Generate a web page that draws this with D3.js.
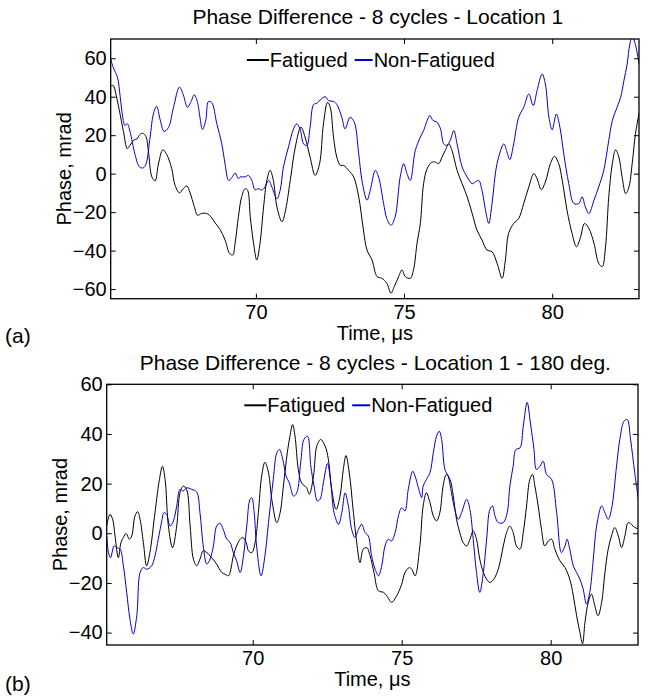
<!DOCTYPE html>
<html>
<head>
<meta charset="utf-8">
<script src="https://cdn.jsdelivr.net/npm/d3@7"></script>
<style>
  html, body { margin: 0; padding: 0; background: #fff; }
  svg { display: block; }
  text { font-family: "Liberation Sans", Arial, Helvetica, sans-serif; fill: #000; }
</style>
</head>
<body>
<svg id="chart" width="648" height="698"></svg>
<script>
// ---------------- DATA ----------------
const xTickValues = [70, 75, 80];
const topYTickValues = [-60, -40, -20, 0, 20, 40, 60];
const botYTickValues = [-40, -20, 0, 20, 40, 60];
const seriesNames = ["Fatigued", "Non-Fatigued"];
const titles = ["Phase Difference - 8 cycles - Location 1", "Phase Difference - 8 cycles - Location 1 - 180 deg."];
const panelLetters = ["(a)", "(b)"];
const xLabel = "Time, \u03bcs";
const yLabel = "Phase, mrad";

// Panel (a): Location 1
const topFatigued = [
[65.10,45.7],[65.19,45.7],[65.28,41],[65.39,33],[65.53,22],[65.66,13],[65.75,14.7],[65.89,17.6],[65.98,18],[66.09,20.4],[66.18,21],[66.29,19.3],[66.37,12],[66.49,-1.7],[66.60,-3.8],[66.71,5],[66.86,12.4],[66.99,10],[67.16,2.6],[67.27,-6],[67.42,-10],[67.55,-7.8],[67.67,-6.4],[67.78,-10],[67.92,-17],[68.03,-21.6],[68.17,-20.7],[68.34,-20.7],[68.48,-22.4],[68.62,-25.5],[68.79,-29],[68.96,-34.5],[69.11,-41.4],
[69.22,-42.3],[69.30,-36],[69.41,-22.4],[69.52,-12],[69.64,-7.8],[69.72,-8.6],[69.81,-22.4],[69.92,-36],[70.03,-44.9],[70.14,-36],[70.26,-17.3],[70.37,-3.5],[70.48,1.7],[70.59,-3.5],[70.71,-17.3],[70.88,-25],[70.99,-19.9],[71.16,-3.5],[71.33,13.8],[71.52,24.2],[71.66,19],[71.83,8.6],[72.00,-0.9],[72.15,5.2],[72.28,25.9],[72.42,37.1],[72.51,34.5],[72.62,19],[72.73,8.6],[72.85,4.3],[72.96,4.3],[73.13,1.7],[73.30,-1.7],[73.47,-12],[73.63,-29.3],[73.75,-39.7],[73.92,-44.9],[74.09,-53.5],[74.25,-54.4],[74.42,-57],[74.56,-62.1],[74.67,-58.7],[74.82,-53.5],[74.93,-50],[75.04,-53.5],[75.21,-54.4],[75.32,-50],[75.44,-36],
[75.55,-25.9],[75.66,-5.2],[75.78,2.6],[75.94,6],[76.06,6],[76.17,5.2],[76.28,8.6],[76.39,12],[76.51,15.5],[76.62,12],[76.79,1.7],[76.96,-5.2],[77.13,-12],[77.30,-20.7],[77.46,-29.3],[77.63,-34.5],[77.80,-39.7],[77.97,-40.6],[78.14,-46.6],[78.31,-54.4],[78.42,-44.9],[78.53,-31],[78.70,-25.9],[78.87,-23.3],[79.04,-15.5],[79.21,-6.9],[79.38,0],[79.49,-2.6],[79.63,-8.3],[79.77,-4.3],[79.94,5.2],[80.08,9],[80.22,5.2],[80.34,-3.5],[80.50,-19],[80.67,-31],[80.82,-38],[80.96,-32.8],[81.09,-25.9],[81.24,-28.5],[81.41,-36.2],[81.57,-46.6],[81.69,-48.3],[81.80,-38],[81.91,-12],[82.03,5.2],[82.14,12.4],[82.25,8.6],[82.36,-1.7],[82.48,-10.4],[82.59,-6.9],[82.70,5.2],[82.81,20.7],[82.96,33.7]
];
const topNonFatigued = [
[65.10,59.6],[65.19,55],[65.33,50],[65.42,40],[65.51,29],[65.58,25],[65.66,26],[65.75,22],[65.92,10],[66.07,3.5],[66.20,3],[66.29,5],[66.43,19],[66.54,31],[66.65,35],[66.77,28],[66.90,22],[67.05,24],[67.22,34.5],[67.42,45],[67.55,41],[67.69,34.5],[67.80,37],[67.92,41],[68.03,37],[68.20,23],[68.31,28],[68.40,37.5],[68.51,37],[68.68,26],[68.85,15.5],[68.96,5],[69.08,-3.5],[69.19,-2],[69.30,0.3],[69.41,-2.6],
[69.47,-1.7],[69.64,-1.7],[69.75,-0.9],[69.86,-3.5],[69.97,-8.3],[70.09,-7.8],[70.20,-8.6],[70.31,-6.9],[70.43,-3.5],[70.54,-6.9],[70.71,-13],[70.82,-8.6],[70.93,3.5],[71.10,13.8],[71.27,23.3],[71.38,25.9],[71.49,23.3],[71.61,15.5],[71.72,14.7],[71.83,24.2],[71.95,36],[72.06,36.6],[72.17,38.3],[72.34,40],[72.45,38],[72.62,37.5],[72.73,36],[72.90,29.3],[73.01,23.3],[73.18,29.3],[73.32,26.8],[73.47,10.4],[73.58,-3.5],[73.75,-13.8],[73.86,-8.6],[74.03,1.7],[74.14,-1.7],[74.31,-15.5],[74.42,-23.3],[74.56,-26.8],[74.70,-22.4],[74.87,-1.7],[74.99,5.2],[75.10,0],[75.21,-3.5],[75.38,12],
[75.55,19],[75.66,22.4],[75.78,27.6],[75.87,30.2],[75.98,27.6],[76.11,26.8],[76.23,23.3],[76.34,15.5],[76.45,14.7],[76.56,17.3],[76.68,22.4],[76.79,15.5],[76.96,3.5],[77.13,-1.7],[77.30,-5.2],[77.41,-4.3],[77.52,-3.5],[77.63,-8.6],[77.75,-19],[77.86,-25.9],[77.97,-15.5],[78.14,5.2],[78.37,15.5],[78.46,12],[78.57,7.3],[78.70,15.5],[78.87,29.3],[79.04,34.5],[79.21,41.4],[79.36,35.4],[79.49,43.2],[79.66,51.8],[79.77,46.6],[79.89,29.3],[80.00,22.8],[80.14,31],[80.26,24.2],[80.39,10.4],[80.56,-5.2],[80.73,-15.5],[80.90,-15.5],[81.01,-12],[81.12,-17.3],[81.24,-20.7],[81.41,-13.8],[81.57,-6.9],[81.74,1.7],[81.91,17.3],[82.03,27.6],[82.19,34.5],[82.31,39.7],[82.42,48.3],[82.53,57],[82.62,67.3],[82.70,71],[82.81,67],[82.93,57]
];

// Panel (b): Location 1 - 180 deg.
const botFatigued = [
[65.10,2.9],[65.21,7.6],[65.30,5.6],[65.38,-1.1],[65.49,-9.8],[65.58,-3.7],[65.66,-1.7],[65.75,-0.1],[65.86,-2.4],[65.94,-1.1],[66.05,7],[66.14,8.7],[66.22,5.6],[66.33,-3.7],[66.44,-13.1],[66.55,-7.8],[66.72,8.3],[66.87,21.7],[66.97,27],[67.06,21.7],[67.17,2.9],[67.31,-5.8],[67.45,2.9],[67.56,16.3],[67.67,19],[67.78,17.7],[67.90,2.9],[68.01,-10.4],[68.12,-13.1],[68.23,-10.4],[68.34,-7.1],[68.46,-7.8],[68.62,-9.8],[68.79,-12.4],[68.96,-15.8],[69.07,-16.5],[69.18,-17.1],
[69.24,-15.8],[69.35,-9.1],[69.46,-5.1],[69.58,-2.4],[69.67,-1.7],[69.78,-3.7],[69.86,-7.1],[69.97,-7.8],[70.08,-3.7],[70.19,8.3],[70.30,23],[70.41,28.6],[70.53,24.4],[70.64,13.7],[70.81,4.3],[70.92,8.3],[71.03,19],[71.16,32.4],[71.25,39.1],[71.34,43.8],[71.42,39.1],[71.53,25.7],[71.64,20.3],[71.81,18.3],[71.90,15.7],[72.04,23],[72.15,35.1],[72.28,37.8],[72.43,35.1],[72.54,29.7],[72.65,17.7],[72.80,9.6],[72.93,15],[73.04,25.7],[73.13,31.3],[73.24,24.4],[73.38,8.3],[73.49,-3.7],[73.60,-11.8],[73.71,-6.4],[73.83,-5.8],[73.94,-9.1],[74.07,-15.8],[74.22,-23.2],[74.39,-23.8],[74.50,-25.2],[74.66,-27.8],[74.83,-25.2],[75.00,-20.5],[75.11,-15.8],[75.26,-13.8],[75.34,-14.5],[75.45,-17.1],
[75.61,-5.1],[75.72,11],[75.83,16.3],[75.95,12.3],[76.06,7],[76.17,5],[76.28,8.3],[76.39,19],[76.50,23.7],[76.62,21.7],[76.73,15],[76.84,5.6],[76.95,0.3],[77.06,-3.7],[77.18,-5.1],[77.29,-2.4],[77.40,0.9],[77.51,-2.4],[77.62,-10.4],[77.74,-15.8],[77.85,-18.5],[77.96,-19.8],[78.09,-18.5],[78.24,-14.5],[78.41,-5.1],[78.52,0.3],[78.63,2.9],[78.74,0.3],[78.85,-5.1],[78.97,-6.4],[79.08,0.3],[79.19,11],[79.30,21.7],[79.39,23.7],[79.47,19],[79.58,11],[79.69,1.6],[79.80,-5.1],[79.92,-3.1],[80.03,-2.4],[80.14,-6.4],[80.31,-11.1],[80.48,-13.8],[80.64,-18.5],[80.76,-25.2],[80.87,-33.2],[80.98,-39.9],[81.07,-44.5],[81.15,-35.9],[81.26,-27.8],[81.37,-24.5],[81.48,-29.2],[81.59,-33.2],[81.71,-27.8],[81.82,-15.8],[81.93,-6.4],[82.04,-1.1],[82.15,2.3],[82.27,-1.1],[82.38,-5.8],[82.49,-1.1],[82.60,4.3],[82.71,3.6],[82.82,2.3],[82.94,1.9]
];
const botNonFatigued = [
[65.10,-1.1],[65.16,-7.8],[65.23,-9.8],[65.35,-5.1],[65.44,-5.8],[65.55,-6.4],[65.66,-13.1],[65.77,-23.8],[65.88,-34.5],[65.99,-40.6],[66.11,-33.2],[66.22,-15.8],[66.33,-13.8],[66.44,-14.5],[66.61,-13.1],[66.72,-9.1],[66.83,-2.4],[66.95,5],[67.02,8.3],[67.11,7.6],[67.23,2.9],[67.34,5],[67.45,11],[67.56,17.7],[67.67,17],[67.78,18.3],[67.95,17.7],[68.12,16.6],[68.23,8.3],[68.34,-5.1],[68.46,-12.4],[68.57,-10.4],[68.68,-5.1],[68.79,2.9],[68.90,4],[69.01,1.6],[69.13,-2.4],
[69.24,-3.7],[69.35,-7.8],[69.46,-11.1],[69.58,-15.8],[69.69,-9.1],[69.80,2.9],[69.91,13.7],[69.97,14.3],[70.05,8.3],[70.13,-5.1],[70.28,-17.1],[70.41,-9.1],[70.53,4.3],[70.69,21.7],[70.81,32.4],[70.90,33.7],[71.01,29.7],[71.12,23],[71.23,20.3],[71.37,15],[71.48,16.3],[71.61,28.4],[71.72,37.8],[71.84,39.1],[71.95,27],[72.06,19],[72.17,13],[72.26,13.7],[72.37,20.3],[72.51,28.1],[72.62,20.3],[72.73,8.3],[72.88,3.6],[72.99,8.3],[73.10,16.3],[73.21,11],[73.32,1.6],[73.43,-1.7],[73.55,1.6],[73.66,3.6],[73.77,0.3],[73.88,-1.1],[73.99,-9.1],[74.11,-14.5],[74.22,-17.1],[74.33,-13.1],[74.44,-5.1],[74.55,-2.4],[74.66,-3.1],[74.78,0.3],[74.89,7],[75.00,10.3],[75.11,9],[75.22,17.7],[75.37,25],[75.45,23],[75.56,18.3],[75.67,14.3],
[75.72,19],[75.83,21.7],[75.95,24.4],[76.06,32.4],[76.17,39.1],[76.26,41.1],[76.34,37.8],[76.45,25.7],[76.56,23],[76.67,16.3],[76.78,9.6],[76.90,5.6],[77.01,8.3],[77.18,13.7],[77.29,9.6],[77.40,-2.4],[77.51,-15.8],[77.62,-23.8],[77.74,-15.8],[77.85,-2.4],[77.96,9.6],[78.05,11],[78.13,7],[78.24,4.3],[78.41,4.3],[78.54,8.3],[78.63,19],[78.74,27],[78.83,33.7],[78.97,34.4],[79.08,43.1],[79.21,52.7],[79.32,44.4],[79.44,33.7],[79.52,25.7],[79.64,27],[79.75,29],[79.86,23.7],[80.03,21.7],[80.20,8.3],[80.36,-7.8],[80.48,-5.1],[80.55,-2.4],[80.64,-6.4],[80.76,-13.1],[80.87,-15.8],[80.98,-18.5],[81.09,-22.5],[81.20,-28.5],[81.31,-23.8],[81.43,-10.4],[81.54,2.9],[81.71,11],[81.82,8.3],[81.93,5.6],[82.04,9.6],[82.21,27],[82.32,37.8],[82.46,45.1],[82.57,45.8],[82.68,37.8],[82.82,24.4],[82.94,13.7]
];

const xDomain = [65.1, 82.93];
const topYDomain = [-65, 70];
const botYDomain = [-45, 60];

// ---------------- DRAW ----------------
const colors = ["#000000", "#0000d0"];
const FS = 20;
const TITLE_FS = 21;
const svg = d3.select("#chart");

const panels = [
  { box: { left: 110.7, right: 639, top: 39, bottom: 298.7 }, yDomain: topYDomain, yTicks: topYTickValues,
    series: [topFatigued, topNonFatigued], title: titles[0], letter: panelLetters[0], titleY: 24, letterY: 343, ylabX: 71 },
  { box: { left: 106.7, right: 638, top: 384.3, bottom: 645 }, yDomain: botYDomain, yTicks: botYTickValues,
    series: [botFatigued, botNonFatigued], title: titles[1], letter: panelLetters[1], titleY: 370, letterY: 691, ylabX: 67 }
];

panels.forEach((p, i) => {
  const b = p.box;
  const w = b.right - b.left, h = b.bottom - b.top;
  const x = d3.scaleLinear().domain(xDomain).range([b.left, b.right]);
  const y = d3.scaleLinear().domain(p.yDomain).range([b.bottom, b.top]);

  const clipId = "clip" + i;
  svg.append("clipPath").attr("id", clipId)
    .append("rect").attr("x", b.left).attr("y", b.top).attr("width", w).attr("height", h);

  // lines
  const line = d3.line().x(d => x(d[0])).y(d => y(d[1])).curve(d3.curveCatmullRom.alpha(0.5));
  const g = svg.append("g").attr("clip-path", `url(#${clipId})`);
  p.series.forEach((s, k) => {
    g.append("path").datum(s).attr("d", line)
      .attr("fill", "none").attr("stroke", colors[k]).attr("stroke-width", 1)
      .attr("stroke-linejoin", "round");
  });

  // axes (ticks inward, mirrored)
  const tickLen = 5;
  const ax = svg.append("g").attr("transform", `translate(0,${b.bottom})`)
    .call(d3.axisBottom(x).tickValues(xTickValues).tickSizeInner(-tickLen).tickSizeOuter(0).tickPadding(6));
  ax.selectAll("text").attr("font-size", FS).attr("font-family", "Liberation Sans, Arial, sans-serif");
  svg.append("g").attr("transform", `translate(0,${b.top})`)
    .call(d3.axisTop(x).tickValues(xTickValues).tickSizeInner(-tickLen).tickSizeOuter(0).tickFormat(""));
  const ay = svg.append("g").attr("transform", `translate(${b.left},0)`)
    .call(d3.axisLeft(y).tickValues(p.yTicks).tickSizeInner(-tickLen).tickSizeOuter(0).tickPadding(4));
  ay.selectAll("text").attr("font-size", FS).attr("font-family", "Liberation Sans, Arial, sans-serif");
  svg.append("g").attr("transform", `translate(${b.right},0)`)
    .call(d3.axisRight(y).tickValues(p.yTicks).tickSizeInner(-tickLen).tickSizeOuter(0).tickFormat(""));
  svg.selectAll(".domain").remove();
  svg.selectAll(".tick line").attr("stroke", "#000").attr("stroke-width", 1);

  // frame
  svg.append("rect").attr("x", b.left).attr("y", b.top).attr("width", w).attr("height", h)
    .attr("fill", "none").attr("stroke", "#000").attr("stroke-width", 1.3);

  // title
  svg.append("text").attr("x", (b.left + b.right) / 2 + 3).attr("y", p.titleY)
    .attr("text-anchor", "middle").attr("font-size", TITLE_FS).text(p.title);

  // x label
  svg.append("text").attr("x", (b.left + b.right) / 2).attr("y", b.bottom + 41)
    .attr("text-anchor", "middle").attr("font-size", FS).text(xLabel);

  // y label
  svg.append("text").attr("transform", `translate(${p.ylabX},${(b.top + b.bottom) / 2}) rotate(-90)`)
    .attr("text-anchor", "middle").attr("font-size", FS).text(yLabel);

  // panel letter
  svg.append("text").attr("x", 5).attr("y", p.letterY).attr("font-size", FS + 1).text(p.letter);

  // legend (no box)
  const lg = svg.append("g");
  const ly = b.top + 21;
  let cx = 0;
  const lineLens = [22, 18];
  seriesNames.forEach((name, k) => {
    lg.append("line").attr("x1", cx).attr("x2", cx + lineLens[k]).attr("y1", ly).attr("y2", ly)
      .attr("stroke", colors[k]).attr("stroke-width", 2);
    cx += lineLens[k] + 1;
    const t = lg.append("text").attr("x", cx).attr("y", ly + 7).attr("font-size", FS).text(name);
    cx += t.node().getComputedTextLength() + 7;
  });
  const totalW = cx - 7;
  lg.attr("transform", `translate(${(b.left + b.right) / 2 - totalW / 2 - 4},0)`);
});
</script>
</body>
</html>
